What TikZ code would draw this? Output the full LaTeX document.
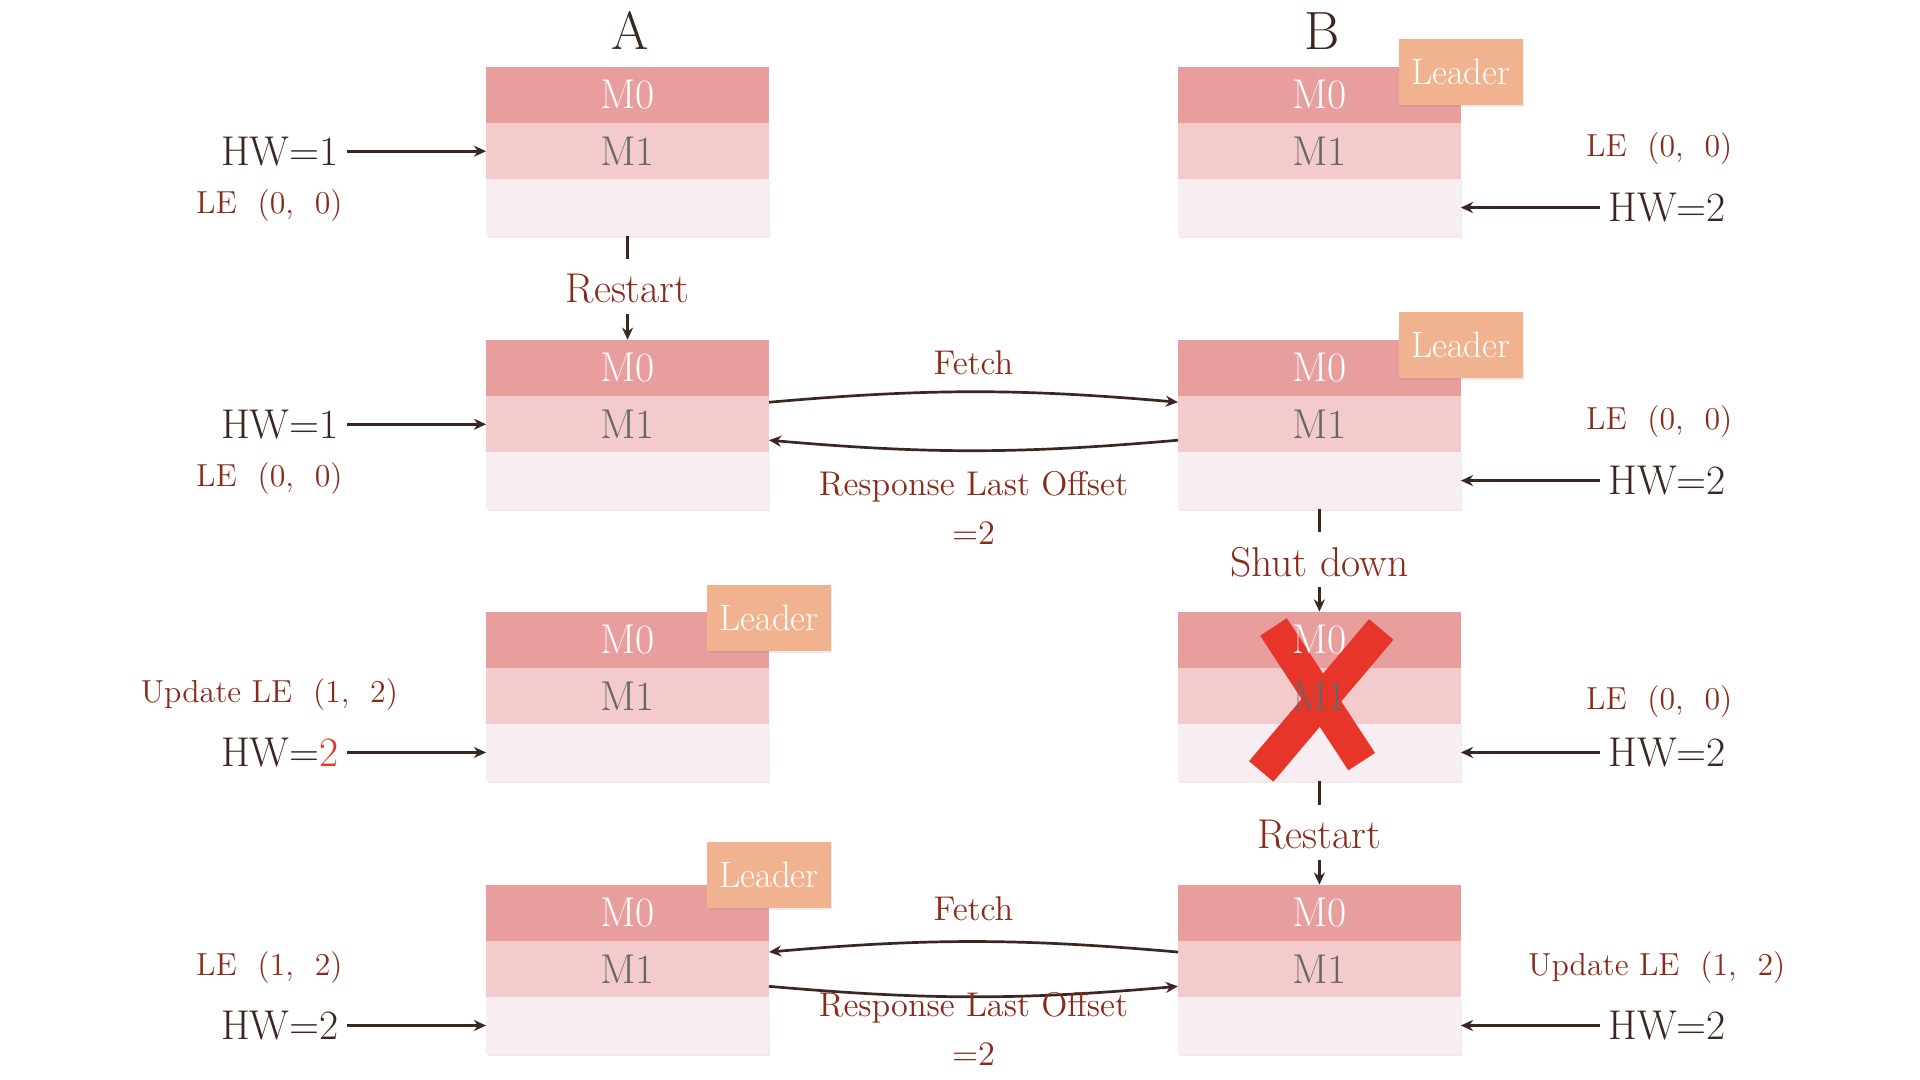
\documentclass[tikz,border=0pt]{standalone}
\usepackage{xcolor}
\usepackage{tikz}
\usetikzlibrary{positioning,arrows.meta,shadows}

\definecolor{bandtop}{HTML}{E79E9C}
\definecolor{bandmid}{HTML}{F3CBCC}
\definecolor{bandlow}{HTML}{F8EDF0}
\definecolor{leaderfill}{HTML}{F0B28F}
\definecolor{ink}{HTML}{3B2620}
\definecolor{rust}{HTML}{8A2A1A}
\definecolor{crossred}{HTML}{E8352A}

\tikzset{
  band/.style={rectangle, minimum width=115.5pt, minimum height=23pt, inner sep=0pt, outer sep=0pt, font=\fontsize{17}{20}\selectfont},
  mzero/.style={band, fill=bandtop, text=white},
  mone/.style={band, fill=bandmid, text=black!60},
  slot/.style={band, fill=bandlow, drop shadow={opacity=.15, shadow xshift=.6pt, shadow yshift=-.8pt}},
  leader/.style={rectangle, fill=leaderfill, text=white, minimum width=50.5pt, minimum height=27pt, inner sep=0pt, font=\fontsize{15}{18}\selectfont, drop shadow={opacity=.15, shadow xshift=.6pt, shadow yshift=-.8pt}},
  title/.style={text=ink, font=\fontsize{22}{26}\selectfont},
  hw/.style={text=ink, font=\fontsize{17}{20}\selectfont, inner sep=3pt},
  le/.style={text=rust, font=\fontsize{13}{16}\selectfont},
  event/.style={text=rust, font=\fontsize{17}{20}\selectfont, inner sep=2pt},
  msg/.style={text=rust, font=\fontsize{14}{20}\selectfont, align=center},
  link/.style={draw=ink, line width=1.1pt},
  cross/.style={draw=crossred, line width=13pt},
}

\begin{document}
\begin{tikzpicture}[x=0.5pt, y=-0.5pt, >={Stealth[length=5pt,width=4.5pt]}]
\useasboundingbox (0,0) rectangle (1568,882);

\node[title] (nameA) at (515,25) {A};
\node[title] (nameB) at (1080,25) {B};

% row 1
\node[mzero] (a1m0) at (512.5,77.5) {M0};
\node[mone, below=0pt of a1m0] (a1m1) {M1};
\node[slot, below=0pt of a1m1] (a1e) {};
\node[mzero] (b1m0) at (1077.5,77.5) {M0};
\node[mone, below=0pt of b1m0] (b1m1) {M1};
\node[slot, below=0pt of b1m1] (b1e) {};
\node[leader] (lead1) at ([yshift=-2pt]b1m0.north east) {Leader};

\node[hw, left=57pt of a1m1] (hwA1) {HW=1};
\node[le] (leA1) at (220,168) {LE~~(0,~~0)};
\draw[link, ->] (hwA1) -- (a1m1);
\node[le] (leB1) at (1355,121) {LE~~(0,~~0)};
\node[hw, right=57pt of b1e] (hwB1) {HW=2};
\draw[link, ->] (hwB1) -- (b1e);

\node[event] (restartA) at (512.5,236) {Restart};
\draw[link, shorten >=4pt] (a1e.south) -- (restartA.north);

% row 2
\node[mzero] (a2m0) at (512.5,300.5) {M0};
\node[mone, below=0pt of a2m0] (a2m1) {M1};
\node[slot, below=0pt of a2m1] (a2e) {};
\node[mzero] (b2m0) at (1077.5,300.5) {M0};
\node[mone, below=0pt of b2m0] (b2m1) {M1};
\node[slot, below=0pt of b2m1] (b2e) {};
\node[leader] (lead2) at ([yshift=-2pt]b2m0.north east) {Leader};
\draw[link, ->, shorten <=2pt] (restartA.south) -- (a2m0.north);

\node[hw, left=57pt of a2m1] (hwA2) {HW=1};
\node[le] (leA2) at (220,391) {LE~~(0,~~0)};
\draw[link, ->] (hwA2) -- (a2m1);
\node[le] (leB2) at (1355,344) {LE~~(0,~~0)};
\node[hw, right=57pt of b2e] (hwB2) {HW=2};
\draw[link, ->] (hwB2) -- (b2e);

\node[msg] (fetch2) at (795,296) {Fetch};
\draw[link, ->] ([yshift=-2.5pt]a2m1.north east) to[bend left=5] ([yshift=-2.5pt]b2m1.north west);
\draw[link, ->] ([yshift=-18pt]b2m1.north west) to[bend left=5] ([yshift=-18pt]a2m1.north east);
\node[msg] (reply2) at (795,415) {Response Last Offset\\=2};

\node[event] (shutB) at (1077.5,459) {Shut down};
\draw[link, shorten >=4pt] (b2e.south) -- (shutB.north);

% row 3
\node[mzero] (a3m0) at (512.5,522.5) {M0};
\node[mone, below=0pt of a3m0] (a3m1) {M1};
\node[slot, below=0pt of a3m1] (a3e) {};
\node[leader] (lead3) at ([yshift=-2.5pt]a3m0.north east) {Leader};
% crossed out replica: bands first, cross, then the text on top
\node[mzero] (b3m0) at (1077.5,522.5) {};
\node[mone, below=0pt of b3m0] (b3m1) {};
\node[slot, below=0pt of b3m1] (b3e) {};
\draw[link, ->, shorten <=2pt] (shutB.south) -- (b3m0.north);

\draw[cross] ([shift={(-37.5,-56.5)}]b3m1.center) -- ([shift={(34.5,53.5)}]b3m1.center);
\draw[cross] ([shift={(50.5,-54.5)}]b3m1.center) -- ([shift={(-47.5,61.5)}]b3m1.center);
\node[mzero, fill=none] (b3t0) at (b3m0) {M0};
\node[mone, fill=none] (b3t1) at (b3m1) {M1};

\node[le] (leA3) at (220,567) {Update LE~~(1,~~2)};
\node[hw, left=57pt of a3e] (hwA3) {HW=\textcolor{crossred}{2}};
\draw[link, ->] (hwA3) -- (a3e);
\node[le] (leB3) at (1355,573) {LE~~(0,~~0)};
\node[hw, right=57pt of b3e] (hwB3) {HW=2};
\draw[link, ->] (hwB3) -- (b3e);

\node[event] (restartB) at (1077.5,682) {Restart};
\draw[link, shorten >=4pt] (b3e.south) -- (restartB.north);

% row 4
\node[mzero] (a4m0) at (512.5,745.5) {M0};
\node[mone, below=0pt of a4m0] (a4m1) {M1};
\node[slot, below=0pt of a4m1] (a4e) {};
\node[leader] (lead4) at ([yshift=4pt]a4m0.north east) {Leader};
\node[mzero] (b4m0) at (1077.5,745.5) {M0};
\node[mone, below=0pt of b4m0] (b4m1) {M1};
\node[slot, below=0pt of b4m1] (b4e) {};
\draw[link, ->, shorten <=2pt] (restartB.south) -- (b4m0.north);

\node[le] (leA4) at (220,790) {LE~~(1,~~2)};
\node[hw, left=57pt of a4e] (hwA4) {HW=2};
\draw[link, ->] (hwA4) -- (a4e);
\node[le] (leB4) at (1353,790) {Update LE~~(1,~~2)};
\node[hw, right=57pt of b4e] (hwB4) {HW=2};
\draw[link, ->] (hwB4) -- (b4e);

\node[msg] (fetch4) at (795,742) {Fetch};
\draw[link, ->] ([yshift=-4.5pt]b4m1.north west) to[bend right=5] ([yshift=-4.5pt]a4m1.north east);
\draw[link, ->] ([yshift=-18.5pt]a4m1.north east) to[bend right=5] ([yshift=-18.5pt]b4m1.north west);
\node[msg] (reply4) at (795,840) {Response Last Offset\\=2};

\end{tikzpicture}
\end{document}
